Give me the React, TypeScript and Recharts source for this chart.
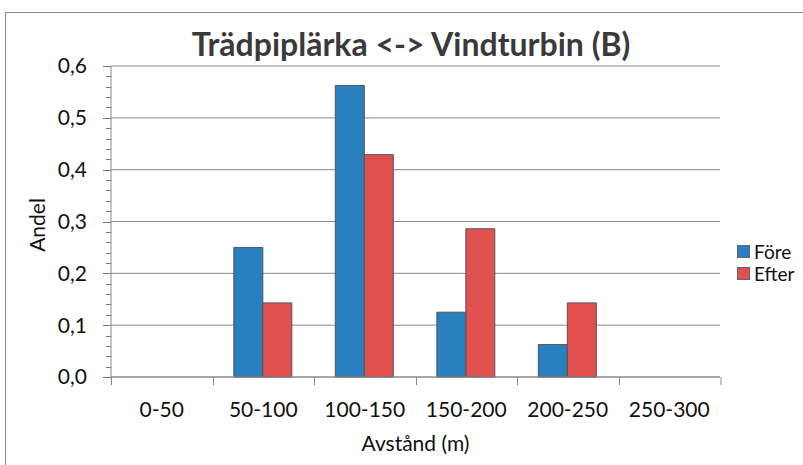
import { Bar, BarChart, CartesianGrid, XAxis, YAxis } from "recharts";

const categories = ["0-50", "50-100", "100-150", "150-200", "200-250", "250-300"];
const fore = [0, 0.25, 0.5625, 0.125, 0.0625, 0];
const efter = [0, 0.143, 0.429, 0.286, 0.143, 0];
const majorTicks = [0, 0.1, 0.2, 0.3, 0.4, 0.5, 0.6];
const minorTicks = [
  0, 0.02, 0.04, 0.06, 0.08, 0.1, 0.12, 0.14, 0.16, 0.18, 0.2, 0.22, 0.24, 0.26, 0.28, 0.3,
  0.32, 0.34, 0.36, 0.38, 0.4, 0.42, 0.44, 0.46, 0.48, 0.5, 0.52, 0.54, 0.56, 0.58, 0.6,
];

const data = categories.map((name, i) => ({ name, fore: fore[i], efter: efter[i] }));

const W = 803;
const H = 465;
const xAxisHeight = 30;
const margin = { top: 66, right: 83, bottom: 88 - xAxisHeight, left: 0 };
const yAxisWidth = 111;
const plotBottom = H - 88;
const band = (W - margin.right - yAxisWidth) / categories.length;
const font = "Lato, 'Open Sans', sans-serif";
const axisColor = "#8a8a8a";

const XTick = (props: any) => {
  const { x, payload, index } = props;
  const left = Math.round(x - band / 2) + 0.5;
  return (
    <g>
      <line x1={left} x2={left} y1={plotBottom} y2={plotBottom + 8} stroke={axisColor} />
      {index === categories.length - 1 && (
        <line x1={left + band} x2={left + band} y1={plotBottom} y2={plotBottom + 8} stroke={axisColor} />
      )}
      <text x={x} y={plotBottom + 40} textAnchor="middle" fontSize={21} fill="#111" fontFamily={font}>
        {payload.value}
      </text>
    </g>
  );
};

const YTick = (props: any) => {
  const { y, payload } = props;
  const v = payload.value;
  const major = Math.abs(v * 10 - Math.round(v * 10)) < 1e-6;
  const yy = Math.round(y) + 0.5;
  return (
    <g>
      <line
        x1={yAxisWidth - (major ? 8 : 5)}
        x2={yAxisWidth}
        y1={yy}
        y2={yy}
        stroke="#777"
        shapeRendering="crispEdges"
      />
      {major && (
        <text x={yAxisWidth - 24} y={y} dy="0.35em" textAnchor="end" fontSize={21} fill="#111" fontFamily={font}>
          {v.toFixed(1).replace(".", ",")}
        </text>
      )}
    </g>
  );
};

const legendItems = [
  { label: "Före", color: "#2a7fc0" },
  { label: "Efter", color: "#e0504e" },
];

export default function App() {
  return (
    <div style={{ position: "absolute", left: 0, top: 0, width: W, height: H, background: "#fff", overflow: "hidden" }}>
      <div
        style={{
          position: "absolute",
          left: 5,
          top: 12,
          width: 830,
          height: 480,
          border: "1px solid #888",
        }}
      />
      <div
        style={{
          position: "absolute",
          left: 0,
          width: 822,
          top: 25,
          textAlign: "center",
          fontFamily: font,
          fontWeight: 700,
          fontSize: 32,
          lineHeight: "38px",
          color: "#3a3a3a",
        }}
      >
        Trädpiplärka &lt;-&gt; Vindturbin (B)
      </div>
      <div
        style={{
          position: "absolute",
          left: 37 - 40,
          top: 225 - 13,
          width: 80,
          lineHeight: "26px",
          textAlign: "center",
          transform: "rotate(-90deg)",
          fontFamily: font,
          fontSize: 21,
          color: "#111",
        }}
      >
        Andel
      </div>
      <div
        style={{
          position: "absolute",
          left: yAxisWidth,
          width: W - margin.right - yAxisWidth,
          top: 430,
          lineHeight: "26px",
          textAlign: "center",
          fontFamily: font,
          fontSize: 21,
          color: "#111",
        }}
      >
        Avstånd (m)
      </div>
      <div style={{ position: "absolute", left: 737, top: 240, fontFamily: font, fontSize: 19, color: "#111" }}>
        {legendItems.map((it) => (
          <div key={it.label} style={{ display: "flex", alignItems: "center", height: 22 }}>
            <span
              style={{
                display: "inline-block",
                width: 11,
                height: 11,
                background: it.color,
                border: "1px solid #666",
                marginRight: 4,
              }}
            />
            {it.label}
          </div>
        ))}
      </div>
      <div style={{ position: "absolute", left: 0, top: 0 }}>
        <BarChart width={W} height={H} data={data} margin={margin} barCategoryGap="21%" barGap={0}>
          <CartesianGrid vertical={false} stroke={axisColor} horizontalValues={majorTicks} />
          <XAxis
            dataKey="name"
            height={xAxisHeight}
            stroke={axisColor}
            tickLine={false}
            tick={<XTick />}
            interval={0}
          />
          <YAxis
            width={yAxisWidth}
            domain={[0, 0.6]}
            ticks={minorTicks}
            interval={0}
            stroke={axisColor}
            tickLine={false}
            tick={<YTick />}
          />
          <Bar dataKey="fore" name="Före" fill="#2a7fc0" stroke="#555" isAnimationActive={false} />
          <Bar dataKey="efter" name="Efter" fill="#e0504e" stroke="#555" isAnimationActive={false} />
        </BarChart>
      </div>
    </div>
  );
}
